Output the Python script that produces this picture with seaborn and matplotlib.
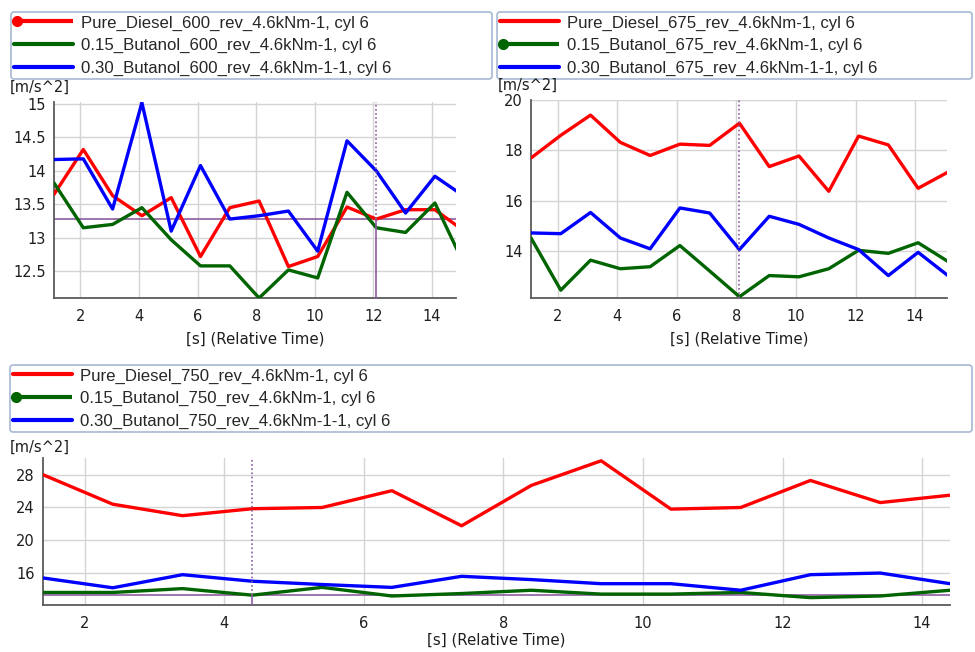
import numpy as np
import pandas as pd
import matplotlib
matplotlib.use("Agg")
import matplotlib.pyplot as plt
import seaborn as sns
from matplotlib.lines import Line2D
from matplotlib.legend_handler import HandlerBase

# ---------------- data ----------------
time_600 = [1.1, 2.1, 3.1, 4.1, 5.1, 6.1, 7.1, 8.1, 9.1, 10.1, 11.1, 12.1, 13.1, 14.1, 15.1]
diesel_600 = [13.65, 14.32, 13.63, 13.33, 13.60, 12.72, 13.45, 13.55, 12.57, 12.72, 13.46, 13.28, 13.42, 13.42, 13.10]
but15_600 = [13.82, 13.15, 13.20, 13.45, 12.97, 12.58, 12.58, 12.10, 12.52, 12.40, 13.68, 13.15, 13.08, 13.52, 12.60]
but30_600 = [14.17, 14.18, 13.43, 15.02, 13.10, 14.08, 13.28, 13.33, 13.40, 12.80, 14.45, 14.00, 13.37, 13.92, 13.62]

time_675 = [1.1, 2.1, 3.1, 4.1, 5.1, 6.1, 7.1, 8.1, 9.1, 10.1, 11.1, 12.1, 13.1, 14.1, 15.1]
diesel_675 = [17.70, 18.60, 19.40, 18.32, 17.80, 18.25, 18.20, 19.08, 17.36, 17.78, 16.38, 18.57, 18.22, 16.50, 17.14]
but15_675 = [14.53, 12.46, 13.65, 13.31, 13.39, 14.23, 13.22, 12.20, 13.04, 12.99, 13.31, 14.04, 13.92, 14.34, 13.60]
but30_675 = [14.73, 14.70, 15.54, 14.53, 14.10, 15.72, 15.52, 14.07, 15.39, 15.07, 14.53, 14.07, 13.04, 13.96, 13.04]

time_750 = [1.4, 2.4, 3.4, 4.4, 5.4, 6.4, 7.4, 8.4, 9.4, 10.4, 11.4, 12.4, 13.4, 14.4]
diesel_750 = [28.0, 24.4, 23.0, 23.85, 24.0, 26.05, 21.77, 26.7, 29.7, 23.8, 24.0, 27.3, 24.6, 25.5]
but15_750 = [13.63, 13.63, 14.10, 13.30, 14.25, 13.20, 13.50, 13.90, 13.43, 13.43, 13.63, 13.00, 13.20, 13.90]
but30_750 = [15.40, 14.20, 15.80, 15.00, 14.60, 14.25, 15.60, 15.20, 14.70, 14.70, 13.90, 15.80, 16.00, 14.70]

labels_600 = ["Pure_Diesel_600_rev_4.6kNm-1, cyl 6",
              "0.15_Butanol_600_rev_4.6kNm-1, cyl 6",
              "0.30_Butanol_600_rev_4.6kNm-1-1, cyl 6"]
labels_675 = ["Pure_Diesel_675_rev_4.6kNm-1, cyl 6",
              "0.15_Butanol_675_rev_4.6kNm-1, cyl 6",
              "0.30_Butanol_675_rev_4.6kNm-1-1, cyl 6"]
labels_750 = ["Pure_Diesel_750_rev_4.6kNm-1, cyl 6",
              "0.15_Butanol_750_rev_4.6kNm-1, cyl 6",
              "0.30_Butanol_750_rev_4.6kNm-1-1, cyl 6"]

yticks_600 = [12.5, 13, 13.5, 14, 14.5, 15]
yticks_675 = [14, 16, 18, 20]
yticks_750 = [16, 20, 24, 28]
xticks = [2, 4, 6, 8, 10, 12, 14]

cursor_600 = (12.1, 13.28)
cursor_675 = (8.1, None)
cursor_750 = (4.4, 13.3)

unit_label = "[m/s^2]"
x_label = "[s] (Relative Time)"

colors = ["#ff0000", "#006400", "#0000ff"]
purple = "#8e5c9e"

# ---------------- style ----------------
sns.set_style("white")
plt.rcParams['font.family'] = ['DejaVu Sans']

W, H = 975, 652
fig = plt.figure(figsize=(W / 100, H / 100), dpi=100)


def fr(x0, y0, x1, y1):
    return [x0 / W, 1 - y1 / H, (x1 - x0) / W, (y1 - y0) / H]


class StartDot(HandlerBase):
    def create_artists(self, legend, orig_handle, xdescent, ydescent,
                       width, height, fontsize, trans):
        y = height / 2 - ydescent
        ln = Line2D([-xdescent, width - xdescent], [y, y],
                    color=orig_handle.get_color(), lw=orig_handle.get_linewidth(),
                    transform=trans, solid_capstyle='butt')
        dot = Line2D([-xdescent + 2], [y], marker='o', markersize=7,
                     color=orig_handle.get_color(), transform=trans)
        return [ln, dot]


legend_font = {'family': ['Liberation Sans', 'DejaVu Sans'], 'size': 12.1}


def panel(rect, legrect, t, series, labels, xlim, ylim, yticks, cursor, dot_idx,
          unit_pos, xlabelpad):
    ax = fig.add_axes(fr(*rect))
    df = pd.DataFrame({
        't': np.tile(t, len(series)),
        'v': np.concatenate([np.asarray(s) for s in series]),
        's': np.repeat(labels, len(t)),
    })
    sns.lineplot(data=df, x='t', y='v', hue='s', hue_order=labels,
                 palette=dict(zip(labels, colors)), estimator=None, sort=False,
                 lw=2.4, ax=ax, legend=False, zorder=3)
    ax.set_xlim(*xlim)
    ax.set_ylim(*ylim)
    ax.set_xticks(xticks)
    ax.set_yticks(yticks)
    ax.set_yticklabels([f"{v:g}" for v in yticks])
    ax.grid(True, color="#d4d4d4", lw=1.0)
    ax.set_axisbelow(True)
    for s in ['top', 'right']:
        ax.spines[s].set_visible(False)
    for s in ['left', 'bottom']:
        ax.spines[s].set_color("#5a5a5a")
        ax.spines[s].set_linewidth(1.3)
    ax.tick_params(axis='both', labelsize=10.5, length=3, color="#5a5a5a",
                   pad=3, labelcolor="#1e1e1e")
    ax.tick_params(axis='x', pad=5)
    ax.set_xlabel(x_label, fontsize=10.8, color="#1e1e1e", labelpad=xlabelpad)
    ax.set_ylabel("")

    cx, cy = cursor
    if cy is None:
        ax.vlines(cx, ylim[0], ylim[1], colors=purple, linestyles=(0, (1, 1.5)), lw=1.2, zorder=4)
    else:
        ax.vlines(cx, cy, ylim[1], colors=purple, linestyles=(0, (1, 1.5)), lw=1.2, zorder=4)
        ax.vlines(cx, ylim[0], cy, colors=purple, lw=1.2, zorder=4)
        ax.axhline(cy, color=purple, lw=1.2, zorder=2.5)

    fig.text(unit_pos[0] / W, 1 - unit_pos[1] / H, unit_label, fontsize=10.5,
             color="#1e1e1e", va='bottom', ha='left')

    handles = [Line2D([], [], color=c, lw=3) for c in colors]
    hmap = {handles[dot_idx]: StartDot()}
    lx0, ly0, lx1, ly1 = legrect
    leg = ax.legend(handles, labels, handler_map=hmap, loc='upper left',
                    bbox_to_anchor=(lx0 / W, 1 - ly1 / H, (lx1 - lx0) / W, (ly1 - ly0) / H),
                    bbox_transform=fig.transFigure, mode='expand', borderaxespad=0,
                    frameon=True, fancybox=True, prop=legend_font,
                    handlelength=3.5, handletextpad=0.45, borderpad=0.2,
                    labelspacing=0.45)
    fr_ = leg.get_frame()
    fr_.set_edgecolor("#a7b9d3")
    fr_.set_linewidth(1.2)
    fr_.set_facecolor("white")
    fr_.set_alpha(1)
    return ax


panel((54, 102, 456, 298), (11, 12, 492, 80), time_600,
      [diesel_600, but15_600, but30_600], labels_600,
      (1.1, 14.82), (12.1, 15.03), yticks_600, cursor_600, 0, (10, 95), 5)

panel((531, 100, 947, 298), (497, 12, 972, 78), time_675,
      [diesel_675, but15_675, but30_675], labels_675,
      (1.1, 15.07), (12.15, 20.0), yticks_675, cursor_675, 1, (498, 93), 5)

panel((43, 458, 950, 605), (10, 365, 972, 436), time_750,
      [diesel_750, but15_750, but30_750], labels_750,
      (1.4, 14.4), (12.1, 30.04), yticks_750, cursor_750, 1, (10, 455), 1)

fig.savefig("out.png", dpi=100, facecolor="white")
